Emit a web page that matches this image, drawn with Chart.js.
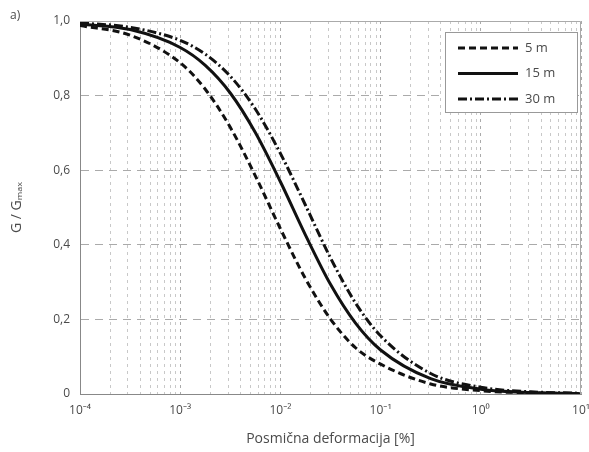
<!DOCTYPE html>
<html>
<head>
<meta charset="utf-8">
<script src="https://cdn.jsdelivr.net/npm/chart.js@4.4.1/dist/chart.umd.min.js"></script>
<style>
  html, body { margin: 0; padding: 0; background: #fff; }
  #wrap { position: relative; width: 589px; height: 452px; }
</style>
</head>
<body>
<div id="wrap"><canvas id="myChart" width="589" height="452"></canvas></div>
<script>
// shear strain [%] and G/Gmax
const strain = [0.0001, 0.000316, 0.001, 0.00178, 0.00316, 0.00562, 0.01, 0.0178, 0.0316, 0.0562, 0.1, 0.316, 1, 3.16, 10];
const g5m = [0.988, 0.962, 0.888, 0.817, 0.715, 0.585, 0.443, 0.309, 0.201, 0.124, 0.080, 0.027, 0.009, 0.003, 0.001];
const g15m = [0.992, 0.977, 0.929, 0.881, 0.807, 0.701, 0.569, 0.426, 0.294, 0.190, 0.118, 0.041, 0.013, 0.004, 0.001];
const g30m = [0.995, 0.983, 0.948, 0.911, 0.852, 0.764, 0.645, 0.506, 0.365, 0.244, 0.156, 0.055, 0.018, 0.006, 0.002];
const seriesLabels = ["5 m", "15 m", "30 m"];
const decadeLabels = { "-4": "10⁻⁴", "-3": "10⁻³", "-2": "10⁻²", "-1": "10⁻¹", "0": "10⁰", "1": "10¹" };

const FONT = "'Open Sans', 'Noto Sans', sans-serif";
const TXT = "#4a4a4a";

const toPoints = (ys) => strain.map((x, i) => ({ x: x, y: ys[i] }));

const lineStyles = [
  { dash: [7, 4] },
  { dash: [] },
  { dash: [9, 3, 2, 3] },
];

// frame + legend + panel letter
const extras = {
  id: "extras",
  afterDraw(chart) {
    const ctx = chart.ctx;
    const a = chart.chartArea;
    ctx.save();
    ctx.strokeStyle = "#aaa";
    ctx.lineWidth = 1;
    ctx.beginPath();
    ctx.moveTo(a.left, a.top + 0.5);
    ctx.lineTo(a.right - 0.5, a.top + 0.5);
    ctx.lineTo(a.right - 0.5, a.bottom);
    ctx.stroke();

    // legend box
    const bx = 445, by = 32, bw = 132, bh = 80;
    ctx.fillStyle = "#fff";
    ctx.fillRect(bx, by, bw, bh);
    ctx.strokeStyle = "#999";
    ctx.strokeRect(bx + 0.5, by + 0.5, bw, bh);
    chart.data.datasets.forEach((ds, i) => {
      const y = by + 16 + i * 25.5;
      ctx.strokeStyle = ds.borderColor;
      ctx.lineWidth = ds.borderWidth;
      ctx.setLineDash(ds.borderDash);
      ctx.beginPath();
      ctx.moveTo(458, y);
      ctx.lineTo(518, y);
      ctx.stroke();
      ctx.setLineDash([]);
      ctx.fillStyle = TXT;
      ctx.font = "13px " + FONT;
      ctx.textBaseline = "middle";
      ctx.textAlign = "left";
      ctx.fillText(ds.label, 525, y);
    });

    ctx.fillStyle = TXT;
    ctx.font = "12px " + FONT;
    ctx.textAlign = "left";
    ctx.textBaseline = "middle";
    ctx.fillText("a)", 10, 16);
    ctx.restore();
  },
};

const ctx = document.getElementById("myChart").getContext("2d");
new Chart(ctx, {
  type: "line",
  data: {
    datasets: [g5m, g15m, g30m].map((ys, i) => ({
      label: seriesLabels[i],
      data: toPoints(ys),
      borderColor: "#111",
      borderWidth: 3,
      borderDash: lineStyles[i].dash,
      pointRadius: 0,
      fill: false,
      cubicInterpolationMode: "monotone",
    })),
  },
  options: {
    responsive: false,
    animation: false,
    layout: { padding: { left: 0, right: 8, top: 21, bottom: 0 } },
    plugins: { legend: { display: false }, tooltip: { enabled: false } },
    scales: {
      x: {
        type: "logarithmic",
        min: 0.0001,
        max: 10,
        afterFit(scale) {
          scale.height = 58;
          scale.paddingLeft = 0;
          scale.paddingRight = 0;
        },
        afterBuildTicks(scale) {
          const t = [];
          for (let e = -4; e <= 1; e++) {
            for (let m = 1; m <= 9; m++) {
              const v = m * Math.pow(10, e);
              if (v <= 10.0001) t.push({ value: v, major: m === 1 });
              if (e === 1) break;
            }
          }
          scale.ticks = t;
        },
        grid: {
          drawTicks: false,
          color: (c) => (c.tick && c.tick.major ? "#aaa" : "#c8c8c8"),
          lineWidth: 1,
        },
        border: { display: true, color: "#888", width: 1, dash: [3, 4] },
        ticks: {
          autoSkip: false,
          maxRotation: 0,
          padding: 9,
          color: TXT,
          font: { family: FONT, size: 12 },
          callback: function (value) {
            const e = Math.round(Math.log10(value));
            if (Math.abs(value - Math.pow(10, e)) < 1e-12 * Math.max(1, value)) return decadeLabels[String(e)];
            return "";
          },
        },
        title: {
          display: true,
          text: "Posmična deformacija [%]",
          color: TXT,
          font: { family: FONT, size: 14 },
          padding: { top: 0, bottom: 5 },
        },
      },
      y: {
        min: 0,
        max: 1,
        afterFit(scale) { scale.width = 80; },
        grid: { drawTicks: false, color: "#aaa", lineWidth: 1 },
        border: { display: true, color: "#888", width: 1, dash: [8, 6] },
        ticks: {
          stepSize: 0.2,
          padding: 10,
          color: TXT,
          font: { family: FONT, size: 12 },
          callback: (v) => (v === 0 ? "0" : v.toFixed(1).replace(".", ",")),
        },
        title: {
          display: true,
          text: "G / Gₘₐₓ",
          color: TXT,
          font: { family: FONT, size: 14 },
          padding: { top: 9, bottom: 0 },
        },
      },
    },
  },
  plugins: [extras],
});
</script>
</body>
</html>
